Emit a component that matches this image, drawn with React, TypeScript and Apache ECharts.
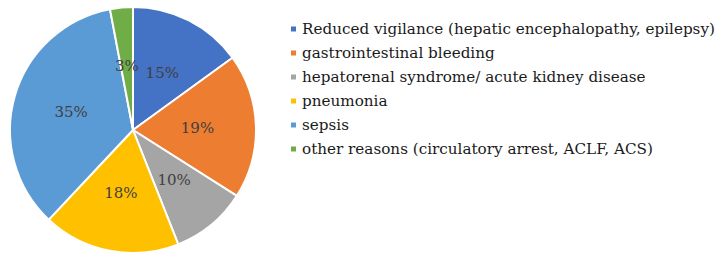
import React, { useEffect, useRef } from "react";
import * as echarts from "echarts";

const categories = [
  "Reduced vigilance (hepatic encephalopathy, epilepsy)",
  "gastrointestinal bleeding",
  "hepatorenal syndrome/ acute kidney disease",
  "pneumonia",
  "sepsis",
  "other reasons (circulatory arrest, ACLF, ACS)",
];
const values = [15, 19, 10, 18, 35, 3];
const colors = ["#4472C4", "#ED7D31", "#A5A5A5", "#FFC000", "#5B9BD5", "#70AD47"];

export default function App() {
  const ref = useRef<HTMLDivElement>(null);
  useEffect(() => {
    if (!ref.current) return;
    const chart = echarts.init(ref.current, null, { renderer: "svg" });
    chart.setOption({
      animation: false,
      backgroundColor: "#ffffff",
      color: colors,
      legend: {
        orient: "vertical",
        left: 284,
        top: 15,
        icon: "rect",
        itemWidth: 7,
        itemHeight: 7,
        itemGap: 6,
        textStyle: {
          fontFamily: "DejaVu Serif",
          fontSize: 15.2,
          color: "#1a1a1a",
          lineHeight: 18,
        },
        data: categories,
      },
      series: [
        {
          type: "pie",
          center: [133, 130],
          radius: 123,
          startAngle: 90,
          clockwise: true,
          itemStyle: { borderColor: "#ffffff", borderWidth: 2 },
          label: {
            show: true,
            position: "inside",
            formatter: "{c}%",
            fontFamily: "DejaVu Serif",
            fontSize: 15,
            color: "#404040",
          },
          labelLine: { show: false },
          data: categories.map((c, i) => ({ name: c, value: values[i] })),
        },
      ],
    });
    return () => chart.dispose();
  }, []);
  return <div ref={ref} style={{ width: 720, height: 260, position: "absolute", left: 0, top: 0 }} />;
}
